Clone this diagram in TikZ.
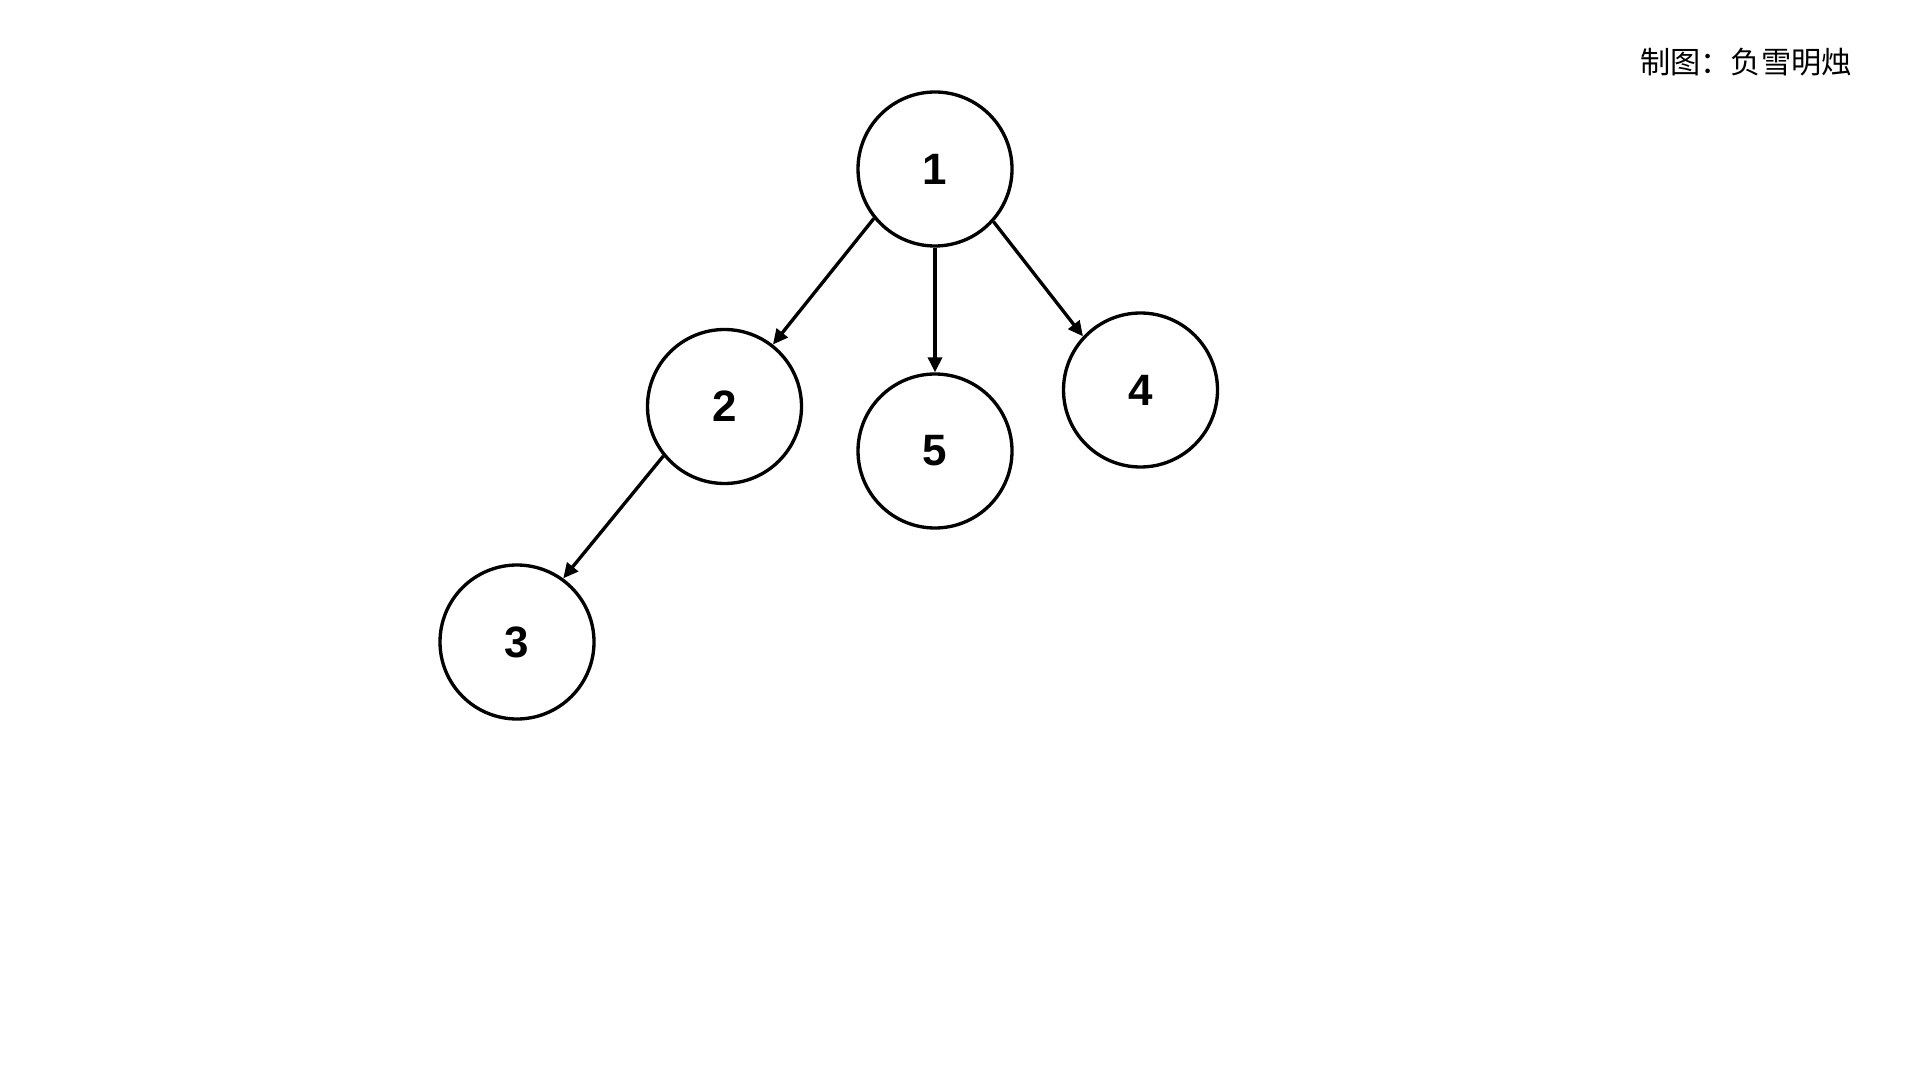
\documentclass[tikz,border=0pt]{standalone}
\usepackage{fontspec}
\setmainfont{Liberation Sans}
\newfontfamily\cjk{Noto Sans CJK SC}
\usetikzlibrary{arrows.meta,positioning}

\begin{document}
\begin{tikzpicture}[
    on grid,
    every node/.style={font=\fontsize{12.5}{14}\selectfont\bfseries},
    vertex/.style={draw, circle, line width=0.95pt, minimum size=1.54cm, inner sep=0pt},
    edge/.style={-{Triangle[length=0.15cm, width=0.14cm]}, line width=0.95pt}
]
\useasboundingbox (0,0) rectangle (19.2,-10.8);
\node[vertex] (n1) at (9.35,-1.69) {1};
\node[vertex, below left=2.375cm and 2.105cm of n1] (n2) {2};
\node[vertex, below=2.82cm of n1] (n5) {5};
\node[vertex, below right=2.21cm and 2.055cm of n1] (n4) {4};
\node[vertex, below left=2.355cm and 2.075cm of n2] (n3) {3};
\node[font=\cjk\fontsize{8.6}{10}\selectfont] (credit) at (17.46,-0.62) {制图：负雪明烛};
\draw[edge] (n1.219) -- (n2.52);
\draw[edge] (n1.south) -- (n5.north);
\draw[edge] (n1.318) -- (n4.137);
\draw[edge] (n2.219) -- (n3.54);
\end{tikzpicture}
\end{document}
